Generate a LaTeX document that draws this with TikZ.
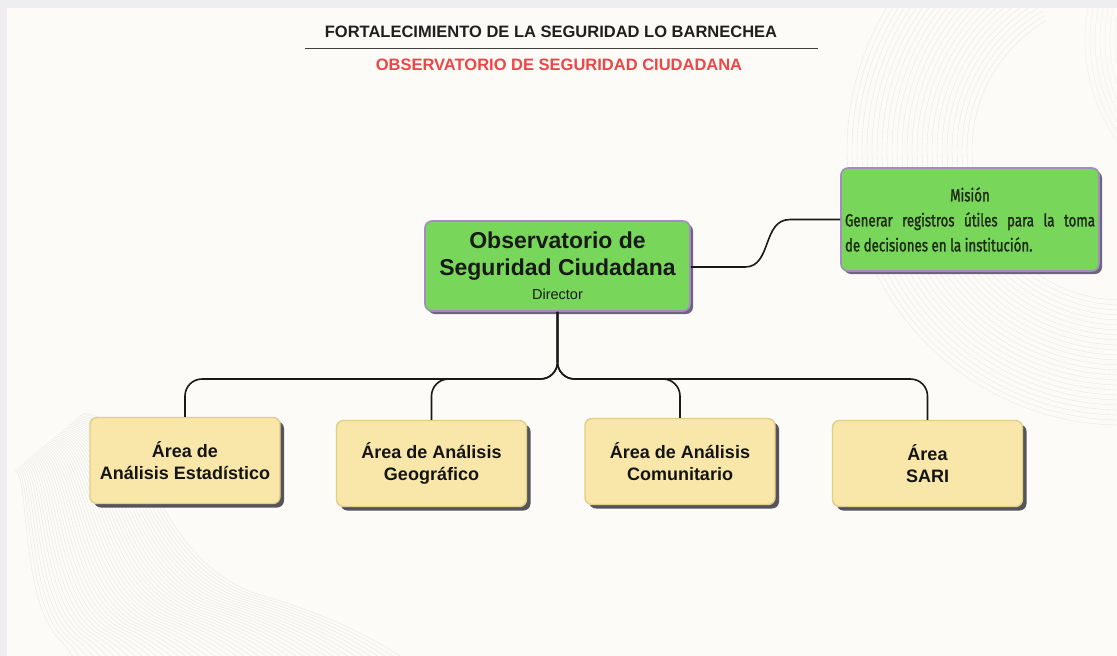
\documentclass[tikz,border=0pt]{standalone}
\usepackage{fontspec}
\setmainfont{Liberation Sans}
\newfontfamily\condf[FakeStretch=0.76,FakeBold=1.4]{Fira Sans}
\usetikzlibrary{shadows}
\definecolor{frame}{HTML}{EEEEF0}
\definecolor{canvas}{HTML}{FCFBF7}
\definecolor{wave}{HTML}{E6E6E6}
\definecolor{mgreen}{HTML}{78D75A}
\definecolor{mborder}{HTML}{A48CBE}
\definecolor{mshadow}{HTML}{6E6480}
\definecolor{yfill}{HTML}{F8E7A9}
\definecolor{yborder}{HTML}{E2CF86}
\definecolor{yshadow}{HTML}{55545C}
\definecolor{titred}{HTML}{EE4646}
\definecolor{txtdark}{HTML}{1E2A14}
\tikzset{
  greenbox/.style={draw=mborder, line width=1.6pt, fill=mgreen, rounded corners=7pt,
    general shadow={fill=mshadow, shadow xshift=3pt, shadow yshift=-3pt}},
  areabox/.style={draw=yborder, line width=1.4pt, fill=yfill, rounded corners=7pt,
    minimum width=190pt, minimum height=86pt, align=center, inner sep=0pt,
    font=\fontsize{18}{22}\selectfont\bfseries, text=black!92,
    general shadow={fill=yshadow, shadow xshift=4pt, shadow yshift=-4pt}},
  conn/.style={draw=black!90, line width=1.6pt},
  wavy/.style={draw=wave, line width=0.35pt}
}
\begin{document}
\begin{tikzpicture}[x=1pt,y=-1pt]
% frame and canvas
\fill[frame] (0,0) rectangle (1117,656);
\fill[canvas] (7,8) rectangle (1117,656);
\useasboundingbox (0,0) rectangle (1117,656);
% background waves
\begin{scope}
\clip (7,8) rectangle (1117,656);
\foreach \i in {0,...,45}{
  \pgfmathsetmacro\t{\i/45}
  \draw[wavy] ({83-68*\t},{413+57*\t})
    .. controls ({150-120*\t},{420+60*\t}) and ({150-130*\t},{560+40*\t}) .. ({260-200*\t},{595+45*\t})
    .. controls ({330-260*\t},{615+35*\t}) and ({380-305*\t},{640+20*\t}) .. ({420-340*\t},670);
}
\foreach \r in {150,155,...,275}{
  \draw[wavy] (1122,150) ++(90:\r) arc[start angle=90, end angle=240, radius=\r];
}
\foreach \r in {120,125,...,175}{
  \draw[wavy, draw=wave!70] (1260,40) ++(100:\r) arc[start angle=100, end angle=215, radius=\r];
}
\end{scope}
% title
\node[font=\fontsize{16.5}{20}\selectfont\bfseries, text=black!88] (title) at (551,32)
  {FORTALECIMIENTO DE LA SEGURIDAD LO BARNECHEA};
\coordinate (rl) at (305,48);
\coordinate (rr) at (818,48);
\draw[line width=0.9pt, black!75] (rl) -- (rr);
\node[font=\fontsize{16.5}{20}\selectfont\bfseries, text=titred] (sub) at (559,65)
  {OBSERVATORIO DE SEGURIDAD CIUDADANA};
% main node
\node[greenbox, minimum width=265pt, minimum height=90pt, inner sep=0pt, align=center,
  font=\fontsize{23}{27}\selectfont\bfseries, text=black!90] (main) at (557.5,266)
  {Observatorio de\\Seguridad Ciudadana\\[-3pt]
   {\fontsize{14.5}{15}\selectfont\mdseries Director}};
% mission node
\node[greenbox, minimum width=258pt, minimum height=103pt, inner sep=0pt, text=txtdark] (mis) at (970,219.5)
  {\parbox{250pt}{\condf\fontsize{17.5}{25}\selectfont
   \hbox to 250pt{\hfil Misión\hfil}
   \hbox to 250pt{Generar\hfil registros\hfil útiles\hfil para\hfil la\hfil toma}
   \hbox to 250pt{de decisiones en la institución.\hfil}}};
% area nodes
\node[areabox] (a1) at (185,460.5) {Área de\\Análisis Estadístico};
\node[areabox] (a2) at (431.5,463.5) {Área de Análisis\\Geográfico};
\node[areabox] (a3) at (680,461.5) {Área de Análisis\\Comunitario};
\node[areabox] (a4) at (927.5,463.5) {Área\\SARI};
% connectors
\coordinate (bus) at (0,379);
\coordinate (m1) at (745,267);
\coordinate (m2) at (790,219.5);
\draw[conn] (main.east |- m1) -- (m1) .. controls (772,267) and (762,219.5) .. (m2) -- (mis.west |- m2);
\foreach \c in {a1,a2,a3,a4}{
  \draw[conn, rounded corners=17pt] (main.south) -- (main.south |- bus) -- (\c.north |- bus) -- (\c.north);
}
\end{tikzpicture}
\end{document}
